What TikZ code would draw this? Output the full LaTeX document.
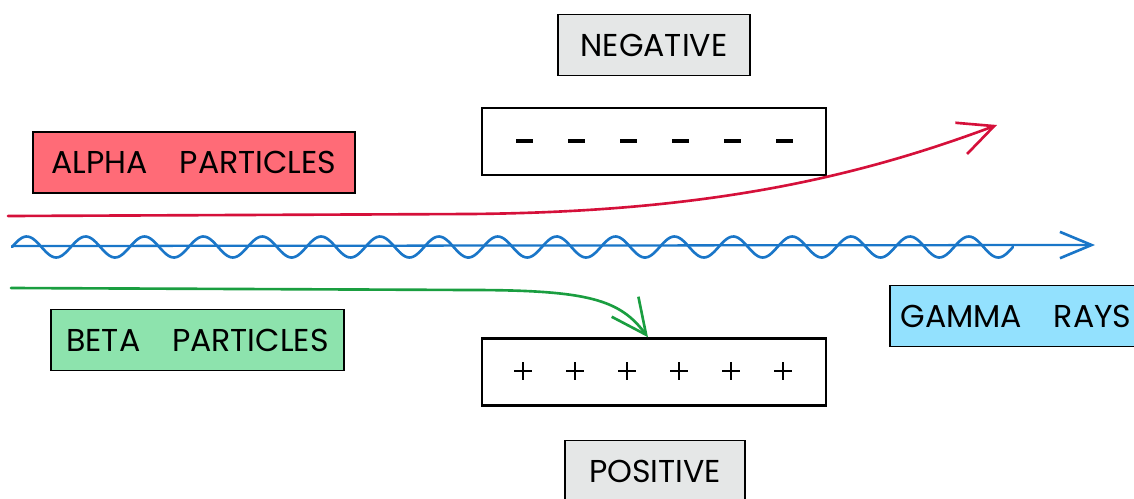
\documentclass[tikz,border=0pt]{standalone}
\usepackage{fontspec}
\setmainfont{Poppins}
\usetikzlibrary{arrows.meta,calc}
\definecolor{alphafill}{HTML}{FF6B77}
\definecolor{betafill}{HTML}{8DE3AD}
\definecolor{gammafill}{HTML}{93E1FE}
\definecolor{chargefill}{HTML}{E5E7E7}
\definecolor{alpharay}{HTML}{D5103A}
\definecolor{betaray}{HTML}{1A9E40}
\definecolor{gammaray}{HTML}{1A76C8}
\tikzset{
  namebox/.style={draw=black, line width=1.1pt, inner sep=0pt,
    minimum height=1.22cm, font=\fontsize{18}{21}\selectfont},
  plate/.style={draw=black, line width=1.4pt, fill=white,
    minimum width=6.88cm, minimum height=1.34cm},
  ray/.style={line width=1.5pt, line cap=round},
  barb/.style={-{Straight Barb[length=20pt,width=19pt,line width=1.5pt]}},
}
\begin{document}
\begin{tikzpicture}[x=0.02cm, y=-0.02cm]
  \useasboundingbox (0,0) rectangle (1134,498);
  % labels
  \node[namebox, fill=alphafill, minimum width=6.44cm] (alpha) at (194,162.5) {ALPHA\hspace{1em}PARTICLES};
  \node[namebox, fill=betafill, minimum width=5.86cm] (beta) at (197.5,340) {BETA\hspace{1em}PARTICLES};
  \node[namebox, fill=gammafill, minimum width=5.04cm] (gamma) at (1016,316) {GAMMA\hspace{1em}RAYS};
  \node[namebox, fill=chargefill, minimum width=3.84cm] (neg) at (654,45) {NEGATIVE};
  \node[namebox, fill=chargefill, minimum width=3.6cm] (pos) at (655,471) {POSITIVE};
  % plates
  \node[plate] (negplate) at (654,141.5) {};
  \node[plate] (posplate) at (654,372) {};
  \foreach \i in {0,...,5}
    \draw[line width=2pt] (516+52*\i,141) -- ++(17,0);
  \foreach \i in {0,...,5} {
    \draw[line width=1.4pt] (514+52*\i,371) -- ++(18,0);
    \draw[line width=1.4pt] (523+52*\i,362) -- ++(0,18);
  }
  % rays
  \coordinate (alphastart) at (8,216);
  \coordinate (alphaend) at (997,125);
  \coordinate (betastart) at (11,288);
  \coordinate (betaend) at ($(posplate.north)+(-6,0)$);
  \coordinate (gammastart) at (12,246);
  \coordinate (gammaend) at (1095,245);
  \draw[ray, alpharay, barb] (alphastart) -- (470,214)
    .. controls (700,212) and (850,180) .. (alphaend);
  \draw[ray, betaray, barb] (betastart) -- (470,290)
    .. controls (590,290) and (620,300) .. (betaend);
  \draw[ray, gammaray, line width=1.3pt,
    -{Straight Barb[length=18pt,width=15pt,line width=1.5pt]}] (gammastart) -- (gammaend);
  \draw[ray, gammaray] plot[domain=12:1013, samples=500]
    (\x, {247-10.5*sin(6.114*(\x-12))});
\end{tikzpicture}
\end{document}
